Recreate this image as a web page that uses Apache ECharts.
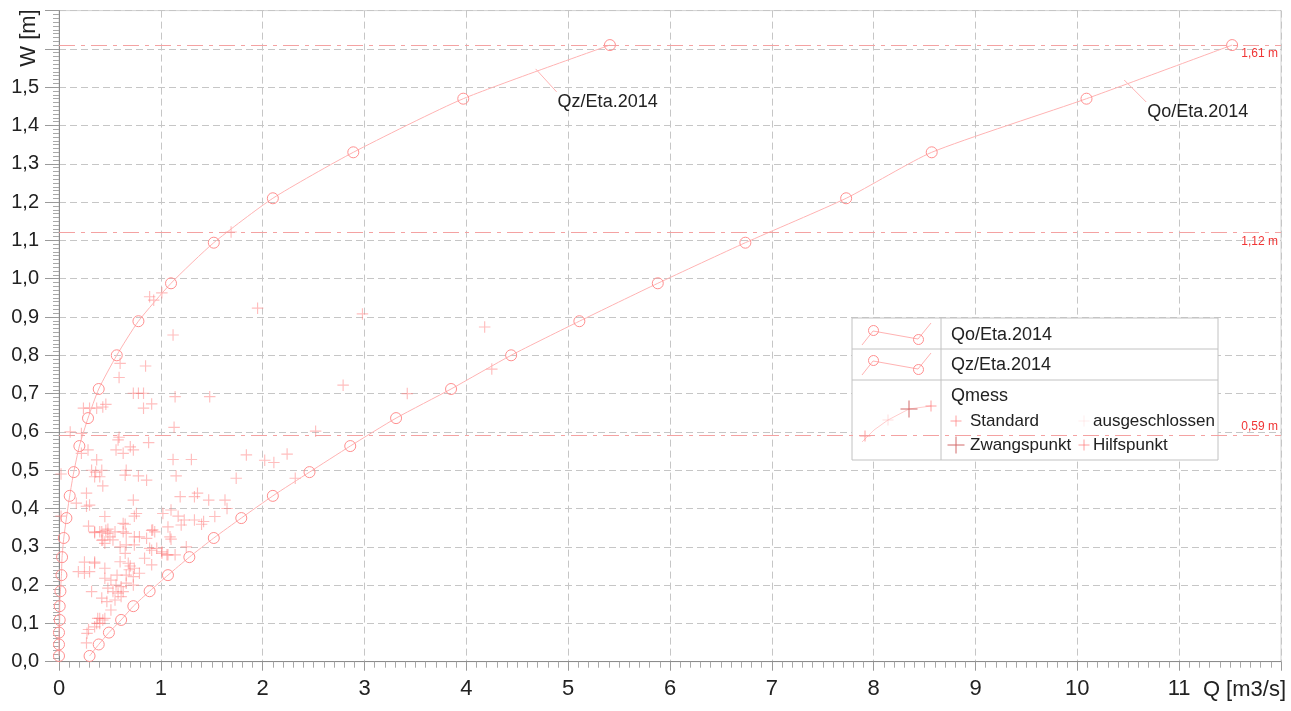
<!DOCTYPE html>
<html>
<head>
<meta charset="utf-8">
<script src="https://cdn.jsdelivr.net/npm/echarts@6/dist/echarts.min.js"></script>
<style>
html,body{margin:0;padding:0;background:#fff;}
#chart{width:1291px;height:711px;}
</style>
</head>
<body>
<div id="chart"></div>
<script>
// Water levels W [m] of the rating-curve table points
const waterLevels = [0.015,0.045,0.076,0.109,0.145,0.184,0.226,0.273,0.323,0.375,0.433,0.495,0.563,0.636,0.712,0.800,0.889,0.988,1.094,1.210,1.330,1.470,1.610];
// Discharge Q [m3/s] of curve Qo/Eta.2014 at those levels
const qoDischarge = [0.30,0.39,0.49,0.61,0.73,0.89,1.07,1.28,1.52,1.79,2.10,2.46,2.86,3.31,3.85,4.44,5.11,5.88,6.74,7.73,8.57,10.09,11.52];
// Discharge Q [m3/s] of curve Qz/Eta.2014 at those levels
const qzDischarge = [0.000,0.000,0.000,0.007,0.007,0.014,0.024,0.030,0.047,0.073,0.105,0.145,0.200,0.285,0.390,0.567,0.780,1.100,1.520,2.100,2.890,3.970,5.410];

// Measurements Qmess [Q, W]
const measuredPoints = [
  [0.89,0.953],[0.93,0.944],[1.01,0.963],[1.95,0.923],[2.98,0.908],[1.12,0.853],[1.69,1.122],
  [0.60,0.779],[0.85,0.772],[0.59,0.742],[0.73,0.701],[0.78,0.701],[0.83,0.701],[1.14,0.692],
  [1.48,0.692],[2.79,0.722],[3.42,0.700],[4.25,0.764],[4.18,0.874],[0.91,0.673],[0.83,0.662],
  [0.24,0.662],[0.30,0.662],[0.37,0.662],[0.43,0.665],[0.46,0.672],[1.13,0.612],[0.11,0.600],
  [0.22,0.596],[0.59,0.586],[0.88,0.572],[0.70,0.561],[2.52,0.602],[0.58,0.579],[0.56,0.553],
  [0.63,0.544],[0.73,0.553],[0.285,0.553],[0.22,0.544],[0.37,0.527],[1.12,0.528],[1.30,0.528],
  [1.84,0.540],[2.11,0.520],[2.24,0.542],[2.02,0.526],[0.32,0.500],[0.36,0.495],[0.42,0.500],
  [0.35,0.483],[0.40,0.483],[0.66,0.500],[0.65,0.487],[0.78,0.485],[0.86,0.474],[0.43,0.459],
  [1.15,0.485],[1.74,0.479],[2.32,0.479],[0.02,0.490],[0.27,0.440],[0.73,0.422],[0.17,0.414],
  [0.30,0.409],[0.27,0.406],[1.19,0.431],[1.33,0.431],[1.36,0.440],[1.47,0.422],[1.63,0.422],
  [1.65,0.400],[1.10,0.396],[0.02,0.380],[0.45,0.379],[0.74,0.380],[0.76,0.387],[1.02,0.387],
  [1.17,0.380],[1.53,0.379],[0.29,0.354],[0.48,0.346],[0.65,0.359],[0.91,0.343],[1.07,0.352],
  [1.20,0.357],[1.33,0.370],[1.40,0.359],[0.35,0.337],[1.09,0.326],[1.42,0.366],[1.23,0.370],
  [0.92,0.344],[1.10,0.320],[1.25,0.300],[0.40,0.339],[0.46,0.343],[0.55,0.339],[0.42,0.317],
  [0.50,0.326],[0.63,0.361],[0.66,0.335],[0.74,0.326],[0.60,0.300],[0.65,0.283],[0.79,0.326],
  [0.86,0.322],[0.94,0.339],[0.91,0.291],[0.96,0.296],[0.35,0.339],[0.42,0.339],[0.48,0.335],
  [0.63,0.339],[0.43,0.318],[0.45,0.309],[0.53,0.318],[0.66,0.305],[0.74,0.305],[0.89,0.296],
  [1.01,0.287],[1.07,0.279],[1.14,0.279],[1.01,0.283],[1.06,0.279],[0.35,0.257],[0.19,0.235],
  [0.25,0.231],[0.30,0.235],[0.45,0.244],[0.60,0.261],[0.68,0.257],[0.74,0.244],[0.69,0.240],
  [0.79,0.231],[0.91,0.253],[0.73,0.222],[0.45,0.218],[0.51,0.213],[0.56,0.200],[0.61,0.196],
  [0.66,0.205],[0.73,0.200],[0.32,0.183],[0.48,0.192],[0.53,0.183],[0.58,0.179],[0.63,0.183],
  [0.42,0.166],[0.47,0.157],[0.55,0.161],[0.61,0.170],[0.51,0.135],[0.38,0.113],[0.43,0.109],
  [0.37,0.100],[0.45,0.113],[0.29,0.084],[0.27,0.049],[0.275,0.074],[0.25,0.260],[0.35,0.260],
  [0.40,0.100],[0.35,0.091],[0.40,0.113],[0.84,0.270],[0.57,0.226],[0.66,0.226],[0.70,0.250]
];

// Marked water levels with their labels
const markedLevels = [1.61, 1.12, 0.59];
const markedLabels = ['1,61 m', '1,12 m', '0,59 m'];

// Axis ranges and tick steps
const qMax = 12, qStep = 1;
const wMax = 1.7, wStep = 0.1;

const curvePink = '#ffb3b3';
const circlePink = '#ff8f8f';
const crossPink = 'rgba(255,120,120,0.6)';
const plusPath = 'path://M4.5,0H5.5V4.5H10V5.5H5.5V10H4.5V5.5H0V4.5H4.5Z';
const fontFamily = '"Liberation Sans", Arial, sans-serif';

const zip = (qs, ws) => qs.map((q, i) => [q, ws[i]]);

const chart = echarts.init(document.getElementById('chart'), null, {renderer: 'canvas'});

const curveSeries = (name, qs) => ({
  name: name,
  type: 'line',
  data: zip(qs, waterLevels),
  smooth: 0.2,
  symbol: 'circle',
  symbolSize: 11,
  lineStyle: {color: curvePink, width: 1},
  itemStyle: {color: 'rgba(255,255,255,0)', borderColor: circlePink, borderWidth: 1},
  emphasis: {disabled: true},
  z: 3
});

chart.setOption({
  animation: false,
  textStyle: {fontFamily: fontFamily},
  grid: {left: 59, right: 10, top: 10.6, bottom: 49.3, containLabel: false,
         show: true, borderColor: '#d2d2d2', borderWidth: 1},
  xAxis: {
    type: 'value', min: 0, max: qMax, interval: qStep,
    axisLine: {show: true, onZero: false, lineStyle: {color: '#8c8c8c', width: 1}},
    axisTick: {show: true, length: 9, lineStyle: {color: '#9a9a9a'}},
    minorTick: {show: true, splitNumber: 10, length: 6, lineStyle: {color: '#a8a8a8'}},
    axisLabel: {fontSize: 22, color: '#222', margin: 16, fontFamily: fontFamily,
                formatter: v => (v >= qMax ? '' : String(v))},
    splitLine: {show: true, lineStyle: {type: [7, 4], color: '#c6c6c6', width: 1}},
    minorSplitLine: {show: false}
  },
  yAxis: {
    type: 'value', min: 0, max: wMax, interval: wStep,
    axisLine: {show: true, onZero: false, lineStyle: {color: '#8c8c8c', width: 1}},
    axisTick: {show: true, length: 14, lineStyle: {color: '#9a9a9a'}},
    minorTick: {show: true, splitNumber: 10, length: 6, lineStyle: {color: '#a8a8a8'}},
    axisLabel: {fontSize: 20, color: '#222', margin: 20, fontFamily: fontFamily,
                formatter: v => (v > 1.55 ? '' : v.toFixed(1).replace('.', ','))},
    splitLine: {show: true, lineStyle: {type: [7, 4], color: '#c6c6c6', width: 1}}
  },
  series: [
    curveSeries('Qo/Eta.2014', qoDischarge),
    curveSeries('Qz/Eta.2014', qzDischarge),
    {
      name: 'Qmess',
      type: 'scatter',
      data: measuredPoints,
      symbol: plusPath,
      symbolSize: 11.5,
      itemStyle: {color: crossPink},
      emphasis: {disabled: true},
      z: 2,
      markLine: {
        silent: true,
        symbol: ['none', 'none'],
        lineStyle: {color: '#f4a2a2', width: 1, type: [16, 6, 4, 6]},
        data: markedLevels.map((v, i) => ({
          yAxis: v,
          label: {
            show: true,
            formatter: markedLabels[i],
            position: v < 1 ? 'insideEndTop' : 'insideEndBottom',
            color: '#f03535', fontSize: 12, fontFamily: fontFamily, distance: [3, 3]
          }
        }))
      }
    }
  ]
});

// Curve name annotations with leader lines, anchored in data coordinates
function annotation(id, anchor, dx, dy, text) {
  const p = chart.convertToPixel({gridIndex: 0}, anchor);
  return {
    type: 'group', id: id, z: 10,
    children: [
      {type: 'line', shape: {x1: p[0] - 2, y1: p[1] - 3, x2: p[0] + dx, y2: p[1] + dy},
       style: {stroke: curvePink, lineWidth: 1}},
      {type: 'text', x: p[0] + dx + 1, y: p[1] + dy + 10,
       style: {text: text, fontSize: 18, fontFamily: fontFamily, fill: '#222',
               textAlign: 'left', textVerticalAlign: 'middle'}}
    ]
  };
}

// Legend panel
const L = {x: 852, y: 318, w: 366, h: 142, split: 941, row1: 349, row2: 380};
const gray = '#c2c2c2';
function crossShape(cx, cy, size, color) {
  const h = size / 2;
  return [
    {type: 'line', shape: {x1: cx - h, y1: cy, x2: cx + h, y2: cy}, style: {stroke: color, lineWidth: 1}},
    {type: 'line', shape: {x1: cx, y1: cy - h, x2: cx, y2: cy + h}, style: {stroke: color, lineWidth: 1}}
  ];
}
function curveIcon(y0) {
  return [
    {type: 'polyline', shape: {points: [[862, y0 + 27], [873, y0 + 13], [918, y0 + 21], [931, y0 + 5]]},
     style: {stroke: curvePink, lineWidth: 1, fill: null}},
    {type: 'circle', shape: {cx: 873.5, cy: y0 + 12.5, r: 5}, style: {stroke: circlePink, fill: null, lineWidth: 1}},
    {type: 'circle', shape: {cx: 918.5, cy: y0 + 21.5, r: 5}, style: {stroke: circlePink, fill: null, lineWidth: 1}}
  ];
}
const legendText = (x, y, t, size) => ({type: 'text', x: x, y: y,
  style: {text: t, fontSize: size, fontFamily: fontFamily, fill: '#222', textVerticalAlign: 'middle'}});

const legendChildren = [
  {type: 'rect', shape: {x: L.x, y: L.y, width: L.w, height: L.h}, style: {fill: '#fff', stroke: gray, lineWidth: 1}},
  {type: 'line', shape: {x1: L.x, y1: L.row1, x2: L.x + L.w, y2: L.row1}, style: {stroke: gray, lineWidth: 1}},
  {type: 'line', shape: {x1: L.x, y1: L.row2, x2: L.x + L.w, y2: L.row2}, style: {stroke: gray, lineWidth: 1}},
  {type: 'line', shape: {x1: L.split, y1: L.y, x2: L.split, y2: L.y + L.h}, style: {stroke: gray, lineWidth: 1}},
  ...curveIcon(318),
  ...curveIcon(348),
  {type: 'polyline', shape: {points: [[862, 442], [874, 430], [888, 420], [909, 409], [931, 406]]},
   style: {stroke: 'rgba(255,170,170,0.6)', lineWidth: 1, fill: null}},
  ...crossShape(865, 436, 11, 'rgba(255,120,120,0.7)'),
  ...crossShape(888, 420, 11, 'rgba(255,190,190,0.5)'),
  ...crossShape(909, 409, 17, '#d26a6a'),
  ...crossShape(931, 406, 11, 'rgba(255,120,120,0.7)'),
  legendText(951, 335, 'Qo/Eta.2014', 18),
  legendText(951, 365, 'Qz/Eta.2014', 18),
  legendText(951, 396, 'Qmess', 18),
  ...crossShape(956, 421, 11, 'rgba(255,120,120,0.7)'),
  legendText(970, 421, 'Standard', 17),
  ...crossShape(1084, 421, 11, 'rgba(255,200,200,0.35)'),
  legendText(1093, 421, 'ausgeschlossen', 17),
  ...crossShape(956, 445, 17, '#d26a6a'),
  legendText(970, 445, 'Zwangspunkt', 17),
  ...crossShape(1084, 445, 11, 'rgba(255,120,120,0.7)'),
  legendText(1093, 445, 'Hilfspunkt', 17)
];

chart.setOption({
  graphic: [
    {type: 'text', id: 'wName', x: 29, y: 38, rotation: Math.PI / 2,
     style: {text: 'W [m]', fontSize: 22, fontFamily: fontFamily, fill: '#222',
             textAlign: 'center', textVerticalAlign: 'middle'}},
    {type: 'text', id: 'qName', x: 1286, y: 690,
     style: {text: 'Q [m3/s]', fontSize: 22, fontFamily: fontFamily, fill: '#222',
             textAlign: 'right', textVerticalAlign: 'middle'}},
    annotation('qzNote', [4.70, 1.540], 19, 20, 'Qz/Eta.2014'),
    annotation('qoNote', [10.48, 1.511], 20, 19, 'Qo/Eta.2014'),
    {type: 'group', id: 'legendPanel', z: 20, children: legendChildren}
  ]
});
</script>
</body>
</html>
